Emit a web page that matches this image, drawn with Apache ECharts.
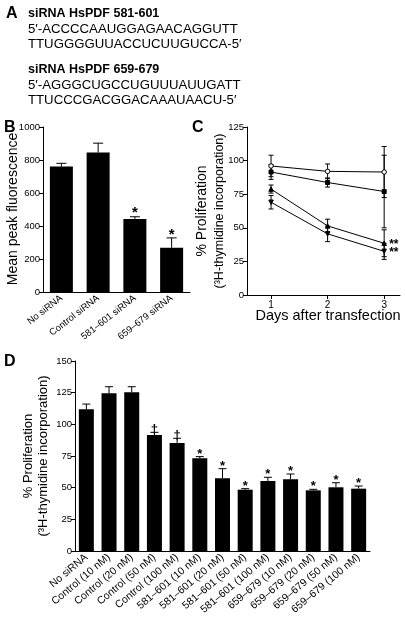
<!DOCTYPE html>
<html><head><meta charset="utf-8">
<script src="https://cdn.jsdelivr.net/npm/echarts@6/dist/echarts.min.js"></script>
<style>html,body{margin:0;padding:0;background:#fff}#c{width:405px;height:620px}</style>
</head><body><div id="c"></div>
<script>
// Panel B data
const catsB = ['No siRNA', 'Control siRNA', '581–601 siRNA', '659–679 siRNA'];
const valsB = [760, 845, 443, 268];
const errB = [20, 57, 13, 60];
const marksB = ['', '', '*', '*'];
// Panel C data
const daysC = [1, 2, 3];
const openC = [96, 92, 91.5];
const openErrC = [8, 5.5, 19];
const squareC = [91.5, 83.7, 77];
const squareErrC = [5.5, 3.4, 27];
const triC = [78.8, 51.4, 38.5];
const triErrC = [3, 5, 10];
const lowC = [69, 45.5, 32.5];
const lowErrC = [5, 5.8, 6];
// Panel D data
const catsD = ['No siRNA', 'Control (10 nM)', 'Control (20 nM)', 'Control (50 nM)', 'Control (100 nM)',
  '581–601 (10 nM)', '581–601 (20 nM)', '581–601 (50 nM)', '581–601 (100 nM)',
  '659–679 (10 nM)', '659–679 (20 nM)', '659–679 (50 nM)', '659–679 (100 nM)'];
const valsD = [112, 124.5, 125.3, 91.6, 85.3, 73.2, 57.4, 48.4, 55.3, 56.6, 47.9, 50.3, 49.2];
const errD = [4, 5.2, 4.4, 2.1, 3.7, 1.3, 7.6, 0.8, 2.9, 4.2, 0.8, 3.6, 2.1];
const marksD = ['', '', '', '†', '†', '*', '*', '*', '*', '*', '*', '*', '*'];

const FONT = "'Liberation Sans', Arial, sans-serif";
const chart = echarts.init(document.getElementById('c'), null, {renderer: 'canvas'});

function errRender(capHalf, both) {
  return function (params, api) {
    const x = api.value(0), y = api.value(1), e = api.value(2);
    const top = api.coord([x, y + e]);
    const bot = api.coord([x, both ? y - e : y]);
    const st = {stroke: '#000', lineWidth: 1};
    const ch = [
      {type: 'line', shape: {x1: top[0], y1: top[1], x2: bot[0], y2: bot[1]}, style: st},
      {type: 'line', shape: {x1: top[0] - capHalf, y1: top[1], x2: top[0] + capHalf, y2: top[1]}, style: st}
    ];
    if (both) ch.push({type: 'line', shape: {x1: bot[0] - capHalf, y1: bot[1], x2: bot[0] + capHalf, y2: bot[1]}, style: st});
    return {type: 'group', children: ch};
  };
}
const marksArr = {mB: marksB, mD: marksD};
function markRender(fontSize, dy) {
  return function (params, api) {
    const x = api.value(0), y = api.value(1) + api.value(2);
    const p = api.coord([x, y]);
    const t = marksArr[params.seriesName][params.dataIndex];
    return {type: 'text', x: p[0], y: p[1] - dy,
      style: {text: t, fill: '#000', font: 'bold ' + fontSize + 'px ' + FONT, align: 'center', verticalAlign: 'bottom'}};
  };
}

const axLine = {show: true, lineStyle: {color: '#000', width: 1}};
const axTick = {show: true, length: 4, lineStyle: {color: '#000'}};

const cSeries = [
  {d: openC, e: openErrC, sym: 'circle', fill: '#fff', size: 4.5, rot: 0},
  {d: squareC, e: squareErrC, sym: 'rect', fill: '#000', size: 4, rot: 0},
  {d: triC, e: triErrC, sym: 'triangle', fill: '#000', size: 4.5, rot: 0},
  {d: lowC, e: lowErrC, sym: 'triangle', fill: '#000', size: 4.5, rot: 180}
];
const series = [];
// B
series.push({type: 'bar', xAxisIndex: 0, yAxisIndex: 0, data: valsB, barWidth: 23, itemStyle: {color: '#000'}, silent: true});
series.push({type: 'custom', xAxisIndex: 0, yAxisIndex: 0, renderItem: errRender(5, false),
  data: valsB.map((v, i) => [i, v, errB[i]]), z: 5});
series.push({type: 'custom', name: 'mB', xAxisIndex: 0, yAxisIndex: 0, renderItem: markRender(15, -4),
  data: valsB.map((v, i) => [i, v, errB[i]]), z: 6});
// C
cSeries.forEach(s => {
  series.push({type: 'custom', xAxisIndex: 1, yAxisIndex: 1, renderItem: errRender(2.5, true),
    data: s.d.map((v, i) => [daysC[i], v, s.e[i]]), z: 3});
  series.push({type: 'line', xAxisIndex: 1, yAxisIndex: 1, data: s.d.map((v, i) => [daysC[i], v]),
    symbol: s.sym, symbolSize: s.size, symbolRotate: s.rot, showSymbol: true,
    lineStyle: {color: '#000', width: 1}, itemStyle: {color: s.fill, borderColor: '#000', borderWidth: 1}, z: 4, silent: true});
});
series.push({type: 'custom', xAxisIndex: 1, yAxisIndex: 1,
  renderItem: function (params, api) {
    const p = api.coord([api.value(0), api.value(1)]);
    return {type: 'text', x: p[0] + 5, y: p[1] + 1,
      style: {text: '**', fill: '#000', font: 'bold 12px ' + FONT, align: 'left', verticalAlign: 'middle'}};
  },
  data: [[daysC[2], triC[2]], [daysC[2], lowC[2]]], z: 6});
// D
series.push({type: 'bar', xAxisIndex: 2, yAxisIndex: 2, data: valsD, barWidth: 15, itemStyle: {color: '#000'}, silent: true});
series.push({type: 'custom', xAxisIndex: 2, yAxisIndex: 2, renderItem: errRender(4, false),
  data: valsD.map((v, i) => [i, v, errD[i]]), z: 5});
series.push({type: 'custom', name: 'mD', xAxisIndex: 2, yAxisIndex: 2, renderItem: markRender(13, -4),
  data: valsD.map((v, i) => [i, v, errD[i]]), z: 6});

function txt(x, y, t, size, bold, rot, align) {
  return {type: 'text', x: x, y: y, rotation: rot || 0,
    style: {text: t, fill: '#000', font: (bold ? 'bold ' : '') + size + 'px ' + FONT, align: align || 'left', verticalAlign: 'middle'}};
}
const R = Math.PI / 2;
const graphics = [
  txt(6, 14, 'A', 16, true), txt(28, 14, 'siRNA HsPDF 581-601', 12.5, true),
  txt(28, 29.5, '5′-ACCCCAAUGGAGAACAGGUTT', 13.2), txt(28, 44.5, 'TTUGGGGUUACCUCUUGUCCA-5′', 13.2),
  txt(28, 70, 'siRNA HsPDF 659-679', 12.5, true),
  txt(28, 85.5, '5′-AGGGCUGCCUGUUUAUUGATT', 13.2), txt(28, 100.5, 'TTUCCCGACGGACAAAUAACU-5′', 13.2),
  txt(4, 128, 'B', 16, true), txt(192, 128, 'C', 16, true), txt(4, 362, 'D', 16, true),
  txt(13, 209, 'Mean peak fluorescence', 14, false, R, 'center'),
  txt(202, 211, '% Proliferation', 14, false, R, 'center'),
  txt(220, 211, '(³H-thymidine incorporation)', 12.5, false, R, 'center'),
  txt(328, 316, 'Days after transfection', 14.5, false, 0, 'center'),
  txt(28, 456, '% Proliferation', 13, false, R, 'center'),
  txt(43, 456, '(³H-thymidine incorporation)', 13, false, R, 'center')
];
const plain = v => String(v);

chart.setOption({
  animation: false,
  textStyle: {fontFamily: FONT},
  grid: [
    {left: 43, top: 127, width: 147, height: 165},
    {left: 247, top: 127, width: 153, height: 168},
    {left: 75, top: 361, width: 295, height: 190}
  ],
  xAxis: [
    {type: 'category', gridIndex: 0, data: catsB, axisLine: axLine, axisTick: {show: false},
      axisLabel: {rotate: 38, interval: 0, fontSize: 9.5, color: '#000', margin: 5, fontFamily: FONT}},
    {type: 'value', gridIndex: 1, min: 0.575, max: 3.28, axisLine: axLine, splitLine: {show: false},
      axisTick: {show: true, length: 4, lineStyle: {color: '#000'}, customValues: daysC},
      axisLabel: {customValues: daysC, formatter: plain, fontSize: 10, color: '#000', margin: 5, fontFamily: FONT}},
    {type: 'category', gridIndex: 2, data: catsD, axisLine: axLine, axisTick: {show: false},
      axisLabel: {rotate: 40, interval: 0, fontSize: 10.5, color: '#000', margin: 5, fontFamily: FONT}}
  ],
  yAxis: [
    {type: 'value', gridIndex: 0, min: 0, max: 1000, interval: 200, axisLine: axLine, axisTick: axTick, splitLine: {show: false},
      axisLabel: {formatter: plain, fontSize: 9.5, color: '#000', margin: 3, fontFamily: FONT}},
    {type: 'value', gridIndex: 1, min: 0, max: 125, interval: 25, axisLine: axLine, axisTick: axTick, splitLine: {show: false},
      axisLabel: {formatter: plain, fontSize: 9.5, color: '#000', margin: 3, fontFamily: FONT}},
    {type: 'value', gridIndex: 2, min: 0, max: 150, interval: 25, axisLine: axLine, axisTick: axTick, splitLine: {show: false},
      axisLabel: {formatter: plain, fontSize: 9.5, color: '#000', margin: 3, fontFamily: FONT}}
  ],
  series: series,
  graphic: graphics
});
</script></body></html>
